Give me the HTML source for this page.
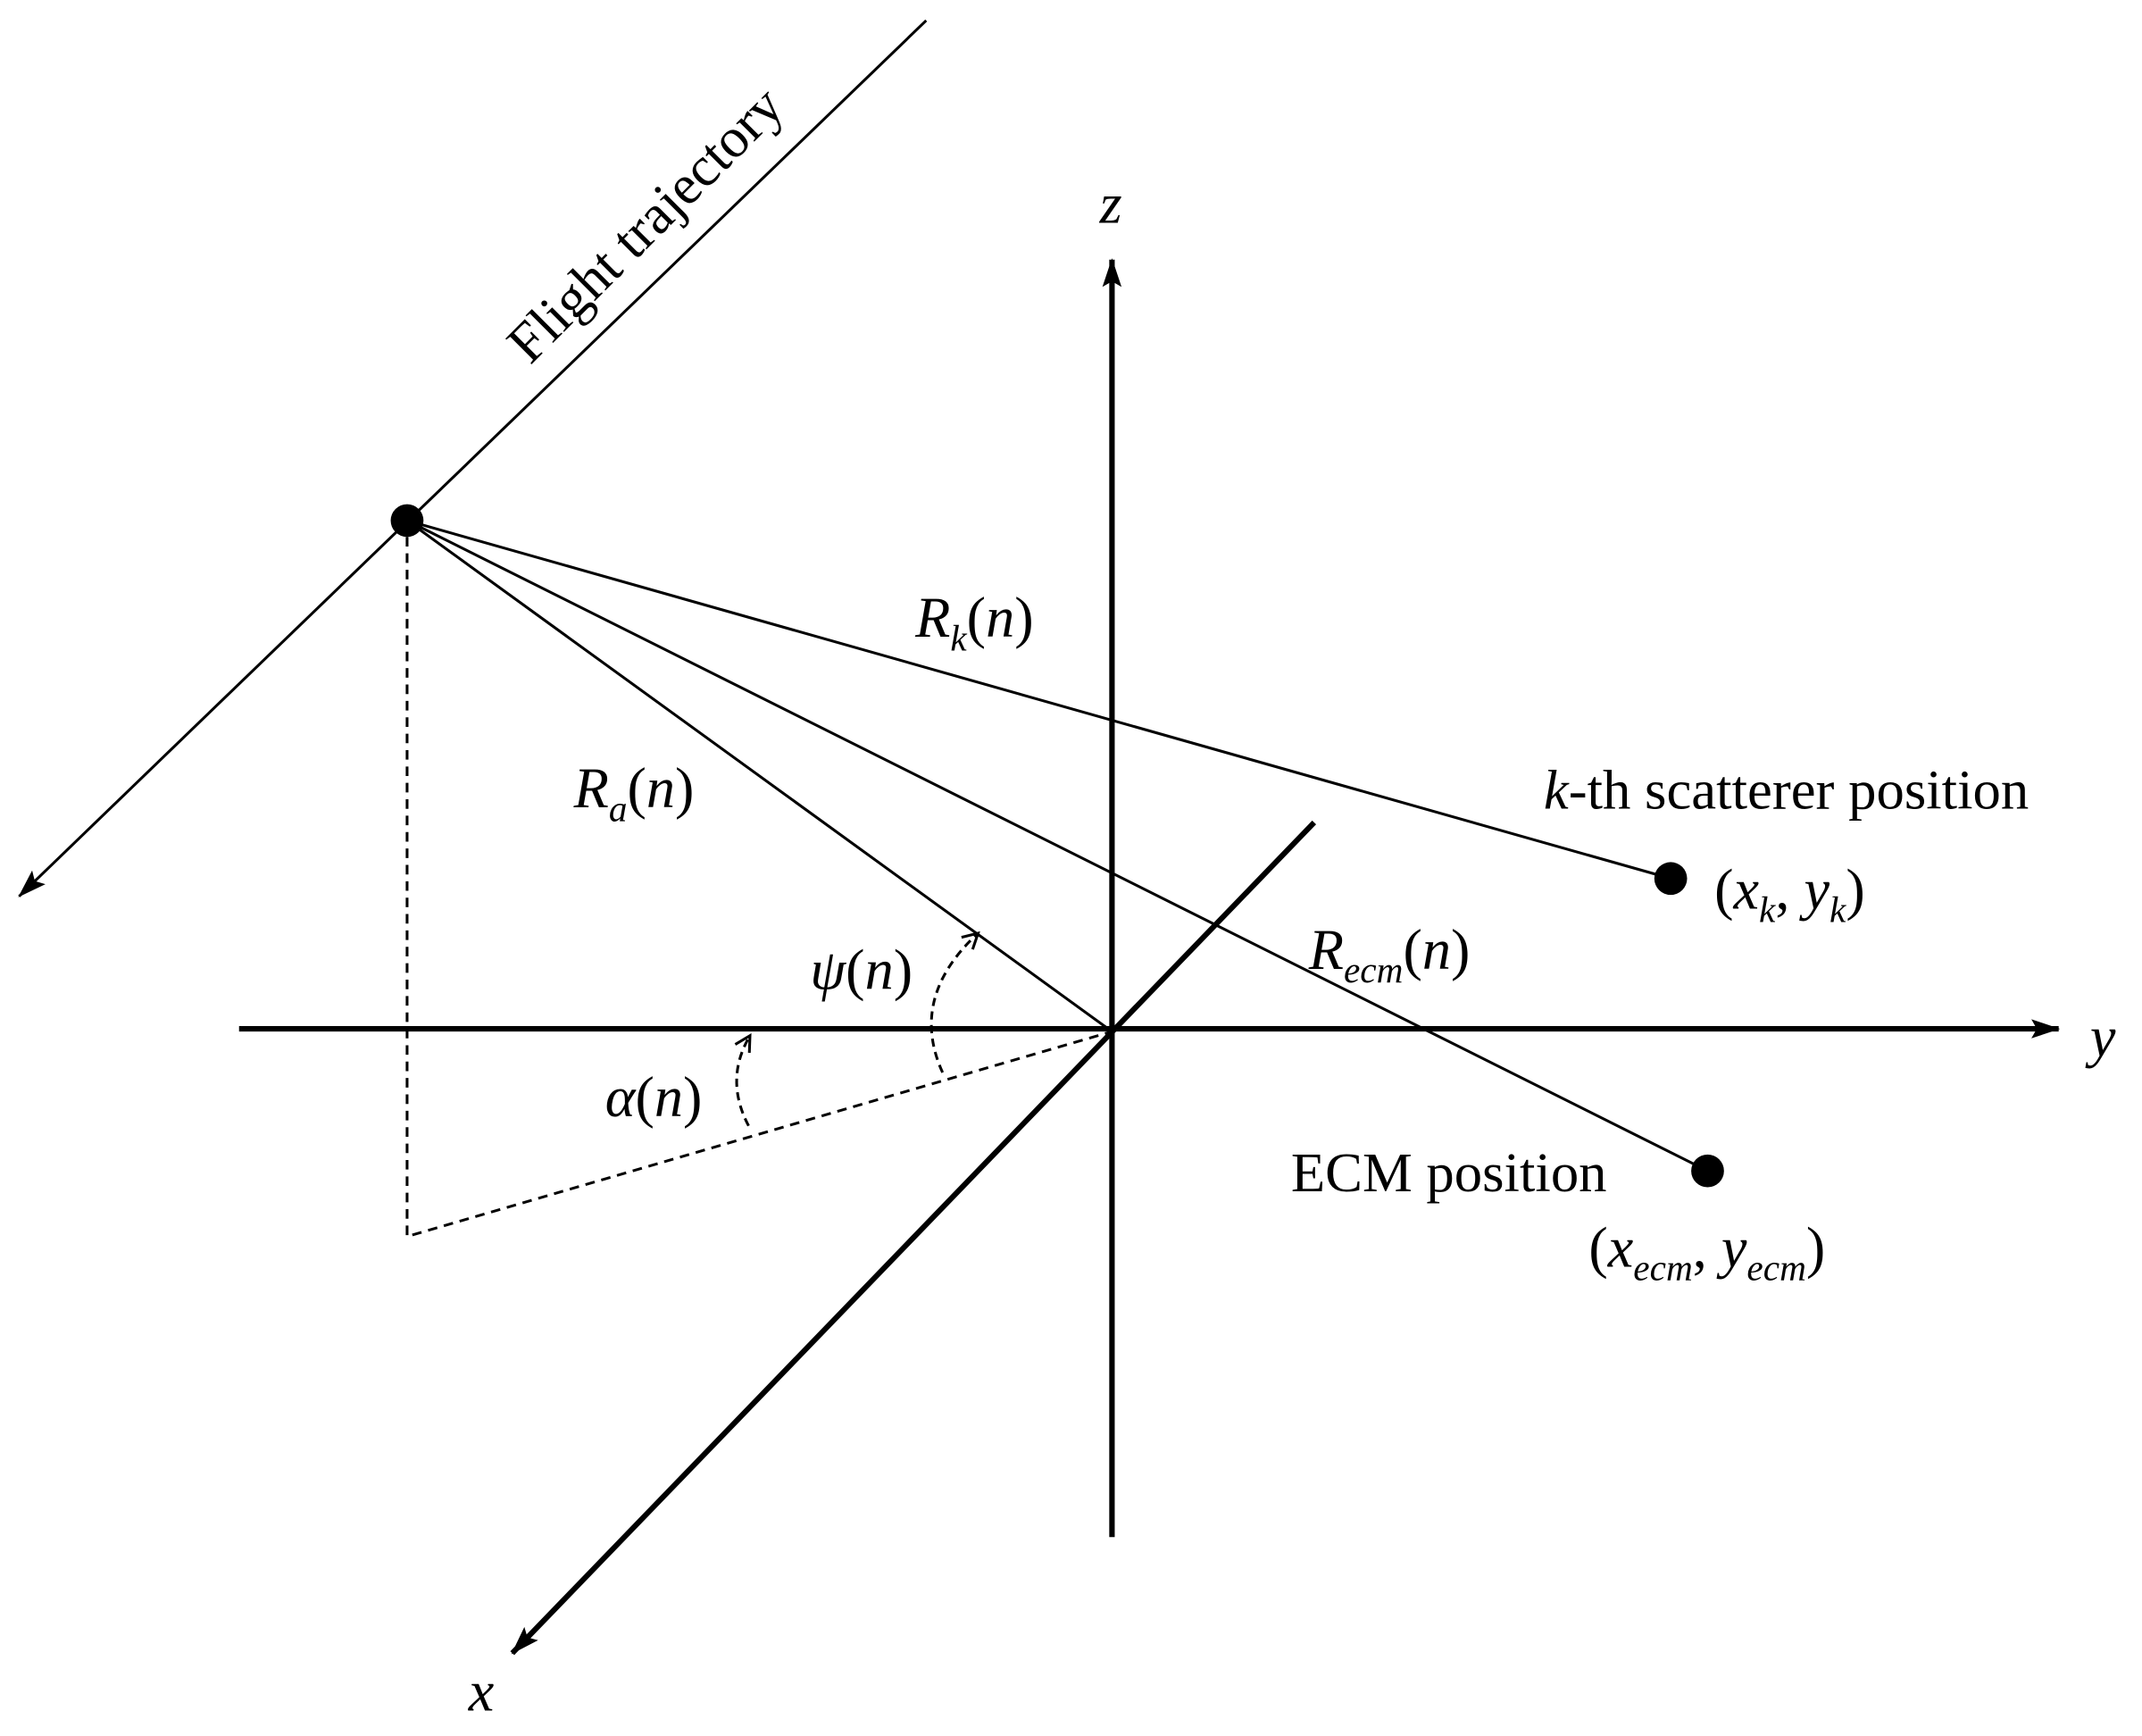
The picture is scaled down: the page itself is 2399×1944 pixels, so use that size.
<!DOCTYPE html>
<html><head><meta charset="utf-8"><style>
html,body{margin:0;padding:0;background:#fff}
svg{display:block}
text{font-family:"Liberation Serif",serif;fill:#000}
.i{font-style:italic}
</style></head><body>
<svg width="2399" height="1944" viewBox="0 0 1568 1270.6" preserveAspectRatio="none" xmlns="http://www.w3.org/2000/svg">
<defs>
<marker id="ah" markerWidth="22" markerHeight="16" refX="20" refY="8" orient="auto" markerUnits="userSpaceOnUse">
<path d="M0,1 L21,8 L0,15 L4,8 Z" fill="#000"/></marker>
<marker id="ao" markerWidth="14" markerHeight="14" refX="12" refY="7" orient="auto" markerUnits="userSpaceOnUse">
<path d="M1,1 L12,7 L1,13" fill="none" stroke="#000" stroke-width="2"/></marker>
</defs>
<g stroke="#000" fill="none">
<line x1="814" y1="1125" x2="814" y2="190" stroke-width="4" marker-end="url(#ah)"/>
<line x1="175" y1="753" x2="1507" y2="753" stroke-width="4" marker-end="url(#ah)"/>
<line x1="962" y1="602" x2="375" y2="1210" stroke-width="4" marker-end="url(#ah)"/>
<line x1="678" y1="15" x2="14" y2="656" stroke-width="2" marker-end="url(#ah)"/>
<path d="M298,381 L298,905 L814,755" stroke-width="2" stroke-dasharray="7,5"/>
<line x1="298" y1="381" x2="814" y2="755" stroke-width="2"/>
<line x1="298" y1="381" x2="1250" y2="857" stroke-width="2"/>
<line x1="298" y1="381" x2="1223" y2="643" stroke-width="2"/>
<path d="M690,785 Q665,730 716,683" stroke-width="2" stroke-dasharray="6,4" marker-end="url(#ao)"/>
<path d="M548,824 Q530,790 549,758" stroke-width="2" stroke-dasharray="6,4" marker-end="url(#ao)"/>
</g>
<circle cx="298" cy="381" r="12" fill="#000"/>
<circle cx="1223" cy="643" r="12" fill="#000"/>
<circle cx="1250" cy="857" r="12" fill="#000"/>
<text x="472" y="178" font-size="41" text-anchor="middle" transform="rotate(-45 472 164)">Flight trajectory</text>
<text x="805" y="163" font-size="42" class="i">z</text>
<text x="1530" y="773" font-size="42" class="i">y</text>
<text x="343" y="1252" font-size="42" class="i">x</text>
<text x="670" y="466" font-size="42"><tspan class="i">R</tspan><tspan class="i" font-size="27" dy="10">k</tspan><tspan dy="-10">(</tspan><tspan class="i">n</tspan>)</text>
<text x="420" y="591" font-size="42"><tspan class="i">R</tspan><tspan class="i" font-size="27" dy="10">a</tspan><tspan dy="-10">(</tspan><tspan class="i">n</tspan>)</text>
<text x="958" y="709" font-size="42"><tspan class="i">R</tspan><tspan class="i" font-size="27" dy="10">ecm</tspan><tspan dy="-10">(</tspan><tspan class="i">n</tspan>)</text>
<text x="1130" y="592" font-size="41"><tspan class="i">k</tspan>-th scatterer position</text>
<text x="1255" y="665" font-size="42">(<tspan class="i">x</tspan><tspan class="i" font-size="27" dy="10">k</tspan><tspan dy="-10">, </tspan><tspan class="i">y</tspan><tspan class="i" font-size="27" dy="10">k</tspan><tspan dy="-10">)</tspan></text>
<text x="593" y="724" font-size="42"><tspan class="i">ψ</tspan>(<tspan class="i">n</tspan>)</text>
<text x="443" y="817" font-size="42"><tspan class="i">α</tspan>(<tspan class="i">n</tspan>)</text>
<text x="945" y="872" font-size="41">ECM position</text>
<text x="1163" y="927" font-size="42">(<tspan class="i">x</tspan><tspan class="i" font-size="27" dy="10">ecm</tspan><tspan dy="-10">, </tspan><tspan class="i">y</tspan><tspan class="i" font-size="27" dy="10">ecm</tspan><tspan dy="-10">)</tspan></text>
</svg>
</body></html>
